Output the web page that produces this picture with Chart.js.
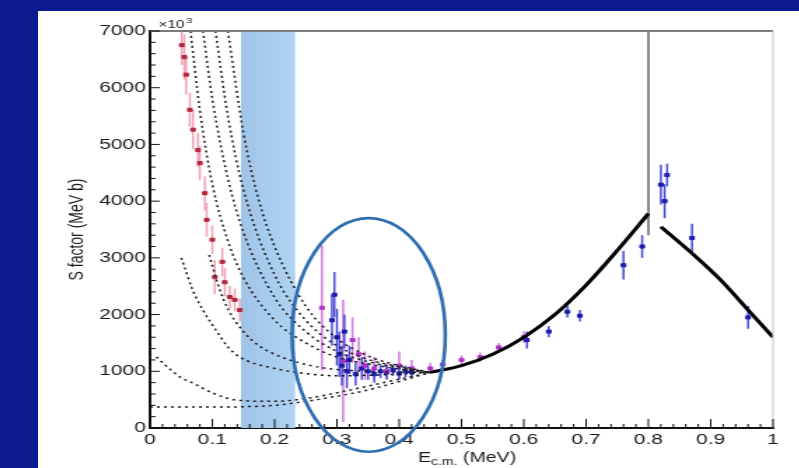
<!DOCTYPE html>
<html><head><meta charset="utf-8">
<script src="https://cdn.jsdelivr.net/npm/chart.js@4"></script>
<style>
html,body{margin:0;padding:0;background:#0b1a8c;width:799px;height:468px;overflow:hidden}
#panel{position:absolute;left:38px;top:11px;width:761px;height:457px;background:#fff;overflow:hidden}
#c{position:absolute;left:0;top:0;transform:scaleX(1.4);transform-origin:0 0}
</style></head><body>
<div id="panel"><canvas id="c" width="544" height="457"></canvas></div>
<script>
// ---- axis ticks ----
const xTickVals = [0,0.1,0.2,0.3,0.4,0.5,0.6,0.7,0.8,0.9,1];
const xTickLabels = ['0','0.1','0.2','0.3','0.4','0.5','0.6','0.7','0.8','0.9','1'];
const yTickVals = [0,1000,2000,3000,4000,5000,6000,7000];
const yTickLabels = ['0','1000','2000','3000','4000','5000','6000','7000'];

// ---- experimental data (E in MeV, S, error) ----
const redE   = [0.051,0.055,0.058,0.064,0.069,0.077,0.080,0.088,0.091,0.100,0.104,0.116,0.120,0.128,0.136,0.144];
const redS   = [6750,6540,6230,5610,5260,4900,4670,4140,3670,3320,2660,2930,2570,2310,2260,2080];
const redErr = [350,400,350,300,350,300,300,300,300,250,300,250,250,200,200,200];

const blueE   = [0.292,0.296,0.300,0.304,0.308,0.312,0.316,0.320,0.330,0.340,0.350,0.360,0.370,0.380,0.390,0.400,0.410,0.420,0.605,0.640,0.670,0.690,0.760,0.790,0.820,0.826,0.830,0.870,0.960];
const blueS   = [1900,2350,1600,1300,1100,1700,1000,1200,950,1050,1000,950,1000,980,1020,960,1000,980,1550,1700,2050,1980,2870,3200,4290,4000,4460,3350,1950];
const blueErr = [450,400,500,400,350,300,300,250,200,200,150,150,120,120,100,100,100,80,150,100,100,100,250,200,350,300,200,250,200];

const purpE   = [0.276,0.310,0.325,0.335,0.345,0.360,0.380,0.400,0.420,0.450,0.470,0.500,0.530,0.560,0.600];
const purpS   = [2120,1180,1550,1300,1100,1050,1000,1100,1050,1050,1120,1200,1250,1420,1600];
const purpErr = [1100,1080,400,300,250,200,150,250,150,100,80,80,80,80,100];

// ---- theory curves ----
const fitLowE  = [0.45,0.5,0.55,0.6,0.65,0.7,0.75,0.8];
const fitLowS  = [980,1100,1300,1600,2000,2520,3130,3780];
const fitHighE = [0.82,0.87,0.915,0.96,1.0];
const fitHighS = [3550,3080,2620,2080,1600];
const spikeE = [0.8,0.8];
const spikeS = [3400,7000];

const curveA = [[0.065,7000],[0.08,5600],[0.1,4300],[0.125,3300],[0.15,2650],[0.2,1900],[0.25,1500],[0.3,1250],[0.35,1130],[0.4,1040],[0.45,980]];
const curveB = [[0.085,7000],[0.1,5800],[0.125,4400],[0.15,3450],[0.2,2300],[0.25,1700],[0.3,1350],[0.35,1170],[0.4,1060],[0.45,980]];
const curveC = [[0.105,7000],[0.125,5500],[0.15,4200],[0.2,2700],[0.25,1900],[0.3,1450],[0.35,1210],[0.4,1080],[0.45,980]];
const curveD = [[0.125,7000],[0.15,5200],[0.175,4000],[0.2,3200],[0.25,2150],[0.3,1580],[0.35,1270],[0.4,1100],[0.45,980]];
const curveE = [[0.05,3000],[0.056,2820],[0.067,2470],[0.085,2080],[0.108,1690],[0.125,1430],[0.144,1250],[0.2,1050],[0.25,960],[0.3,920],[0.35,930],[0.4,950],[0.45,980]];
const curveF = [[0.095,3050],[0.11,2500],[0.125,2100],[0.15,1700],[0.175,1450],[0.2,1300],[0.25,1120],[0.3,1030],[0.35,1000],[0.4,985],[0.45,980]];
const curveG = [[0.01,1250],[0.048,900],[0.069,790],[0.1,620],[0.14,490],[0.2,470],[0.25,520],[0.3,620],[0.35,740],[0.4,860],[0.45,980]];
const curveH = [[0,370],[0.1,370],[0.15,375],[0.2,400],[0.25,470],[0.3,560],[0.35,670],[0.4,820],[0.45,980]];

// ---- annotations (data units) ----
const bandE = [0.146,0.233];
const ellipseCenter = [0.351,1640];
const ellipseRadius = [0.123,2060];

const FONT = "'Liberation Sans', Arial, sans-serif";
const pts = (E,S) => E.map((e,i)=>({x:e,y:S[i]}));
const pairs = P => P.map(p=>({x:p[0],y:p[1]}));

const datasets = [];
[curveA,curveB,curveC,curveD,curveE,curveF,curveG,curveH].forEach(c=>{
  datasets.push({data:pairs(c),showLine:true,borderColor:'#1a1a1a',borderWidth:1.5,borderDash:[2,3],
    pointRadius:0,cubicInterpolationMode:'monotone'});
});
datasets.push({data:pts(fitLowE,fitLowS),showLine:true,borderColor:'#000',borderWidth:3,pointRadius:0,cubicInterpolationMode:'monotone'});
datasets.push({data:pts(fitHighE,fitHighS),showLine:true,borderColor:'#000',borderWidth:3,pointRadius:0,cubicInterpolationMode:'monotone'});
datasets.push({data:pts(spikeE,spikeS),showLine:true,borderColor:'#8a8a8a',borderWidth:2,pointRadius:0});
datasets.push({data:pts(redE,redS),errs:redErr,errColor:'#f0a3b4',pointStyle:'rect',pointRadius:2.2,backgroundColor:'#b3283e',borderColor:'#b3283e'});
datasets.push({data:pts(purpE,purpS),errs:purpErr,errColor:'#d27be0',pointStyle:'rect',pointRadius:2.2,backgroundColor:'#b030c8',borderColor:'#b030c8'});
datasets.push({data:pts(blueE,blueS),errs:blueErr,errColor:'#4a4ad8',pointStyle:'rect',pointRadius:2.2,backgroundColor:'#1c1cb0',borderColor:'#1c1cb0'});

const decor = {
  id:'decor',
  beforeDatasetsDraw(chart){
    const {ctx, chartArea:a, scales:{x,y}} = chart;
    ctx.save();
    const x0 = x.getPixelForValue(bandE[0]), x1 = x.getPixelForValue(bandE[1]);
    const g = ctx.createLinearGradient(x0,0,x1,0);
    g.addColorStop(0,'#9fc4e8'); g.addColorStop(1,'#b0d3f1');
    ctx.fillStyle = g;
    ctx.fillRect(x0,a.top,x1-x0,a.bottom-a.top);
    ctx.beginPath(); ctx.rect(a.left,a.top,a.right-a.left,a.bottom-a.top); ctx.clip();
    chart.data.datasets.forEach(ds=>{
      if(!ds.errs) return;
      ctx.strokeStyle = ds.errColor; ctx.lineWidth = 1.5;
      ds.data.forEach((p,i)=>{
        const px = x.getPixelForValue(p.x);
        ctx.beginPath();
        ctx.moveTo(px,y.getPixelForValue(p.y-ds.errs[i]));
        ctx.lineTo(px,y.getPixelForValue(p.y+ds.errs[i]));
        ctx.stroke();
      });
    });
    ctx.restore();
  },
  afterDatasetsDraw(chart){
    const {ctx, chartArea:a, scales:{x,y}} = chart;
    ctx.save();
    ctx.strokeStyle='#7a7a7a'; ctx.lineWidth=2;
    ctx.beginPath(); ctx.moveTo(a.left,a.top); ctx.lineTo(a.right,a.top); ctx.stroke();
    ctx.strokeStyle='#c4c4c4'; ctx.lineWidth=1;
    ctx.beginPath(); ctx.moveTo(a.right,a.top); ctx.lineTo(a.right,a.bottom); ctx.stroke();
    ctx.strokeStyle='#111'; ctx.lineWidth=1;
    const seg=(x1,y1,x2,y2)=>{ctx.beginPath();ctx.moveTo(x1,y1);ctx.lineTo(x2,y2);ctx.stroke();};
    for(let i=0;i<xTickVals.length;i++){
      const px=x.getPixelForValue(xTickVals[i]); seg(px,a.bottom,px,a.bottom-9);
      if(i<xTickVals.length-1) for(let k=1;k<5;k++){
        const q=x.getPixelForValue(xTickVals[i]+(xTickVals[i+1]-xTickVals[i])*k/5); seg(q,a.bottom,q,a.bottom-4);
      }
    }
    for(let i=0;i<yTickVals.length;i++){
      const py=y.getPixelForValue(yTickVals[i]); seg(a.left,py,a.left+7,py);
      if(i<yTickVals.length-1) for(let k=1;k<5;k++){
        const q=y.getPixelForValue(yTickVals[i]+(yTickVals[i+1]-yTickVals[i])*k/5); seg(a.left,q,a.left+4,q);
      }
    }
    ctx.restore();
  },
  afterDraw(chart){
    const {ctx, chartArea:a, scales:{x,y}} = chart;
    ctx.save();
    const cx=x.getPixelForValue(ellipseCenter[0]), cy=y.getPixelForValue(ellipseCenter[1]);
    const rx=x.getPixelForValue(ellipseCenter[0]+ellipseRadius[0])-cx;
    const ry=cy-y.getPixelForValue(ellipseCenter[1]+ellipseRadius[1]);
    ctx.strokeStyle='#2f6db3'; ctx.lineWidth=2.6;
    ctx.beginPath(); ctx.ellipse(cx,cy,rx,ry,0,0,Math.PI*2); ctx.stroke();
    ctx.fillStyle='#1a1a1a'; ctx.textBaseline='alphabetic';
    const big='14px '+FONT, small='10px '+FONT;
    const parts=[['E',big,0],['c.m.',small,3],[' (MeV)',big,0]];
    let w=0; parts.forEach(p=>{ctx.font=p[1]; w+=ctx.measureText(p[0]).width;});
    let tx=(a.left+a.right)/2 - w/2 + 4; const ty=a.bottom+34;
    parts.forEach(p=>{ctx.font=p[1]; ctx.fillText(p[0],tx,ty+p[2]); tx+=ctx.measureText(p[0]).width;});
    ctx.font='11px '+FONT; ctx.fillText('\u00d710',a.left+6,a.top-3);
    const ew=ctx.measureText('\u00d710').width;
    ctx.font='8px '+FONT; ctx.fillText('3',a.left+6+ew+1,a.top-8);
    ctx.restore();
  }
};

new Chart(document.getElementById('c'),{
  type:'scatter',
  data:{datasets},
  options:{
    responsive:false, animation:false, devicePixelRatio:1,
    layout:{padding:{left:0,right:19,top:20,bottom:0}},
    plugins:{legend:{display:false},tooltip:{enabled:false}},
    scales:{
      x:{type:'linear',min:0,max:1,
        grid:{display:false,drawTicks:false},
        border:{display:true,color:'#111',width:2},
        afterBuildTicks:s=>{s.ticks=xTickVals.map(v=>({value:v}));},
        afterFit:s=>{s.height=40;},
        ticks:{padding:3,color:'#1a1a1a',font:{family:FONT,size:15},maxRotation:0,autoSkip:false,
          callback:(v,i)=>xTickLabels[i]},
        title:{display:false}},
      y:{type:'linear',min:0,max:7000,
        grid:{display:false,drawTicks:false},
        border:{display:true,color:'#111',width:2},
        afterBuildTicks:s=>{s.ticks=yTickVals.map(v=>({value:v}));},
        afterFit:s=>{s.width=80;},
        ticks:{padding:3,color:'#1a1a1a',font:{family:FONT,size:15},autoSkip:false,
          callback:(v,i)=>yTickLabels[i]},
        title:{display:true,text:'S factor (MeV b)',color:'#1a1a1a',font:{family:FONT,size:14},padding:{top:20,bottom:0}}}
    }
  },
  plugins:[decor]
});
</script></body></html>
